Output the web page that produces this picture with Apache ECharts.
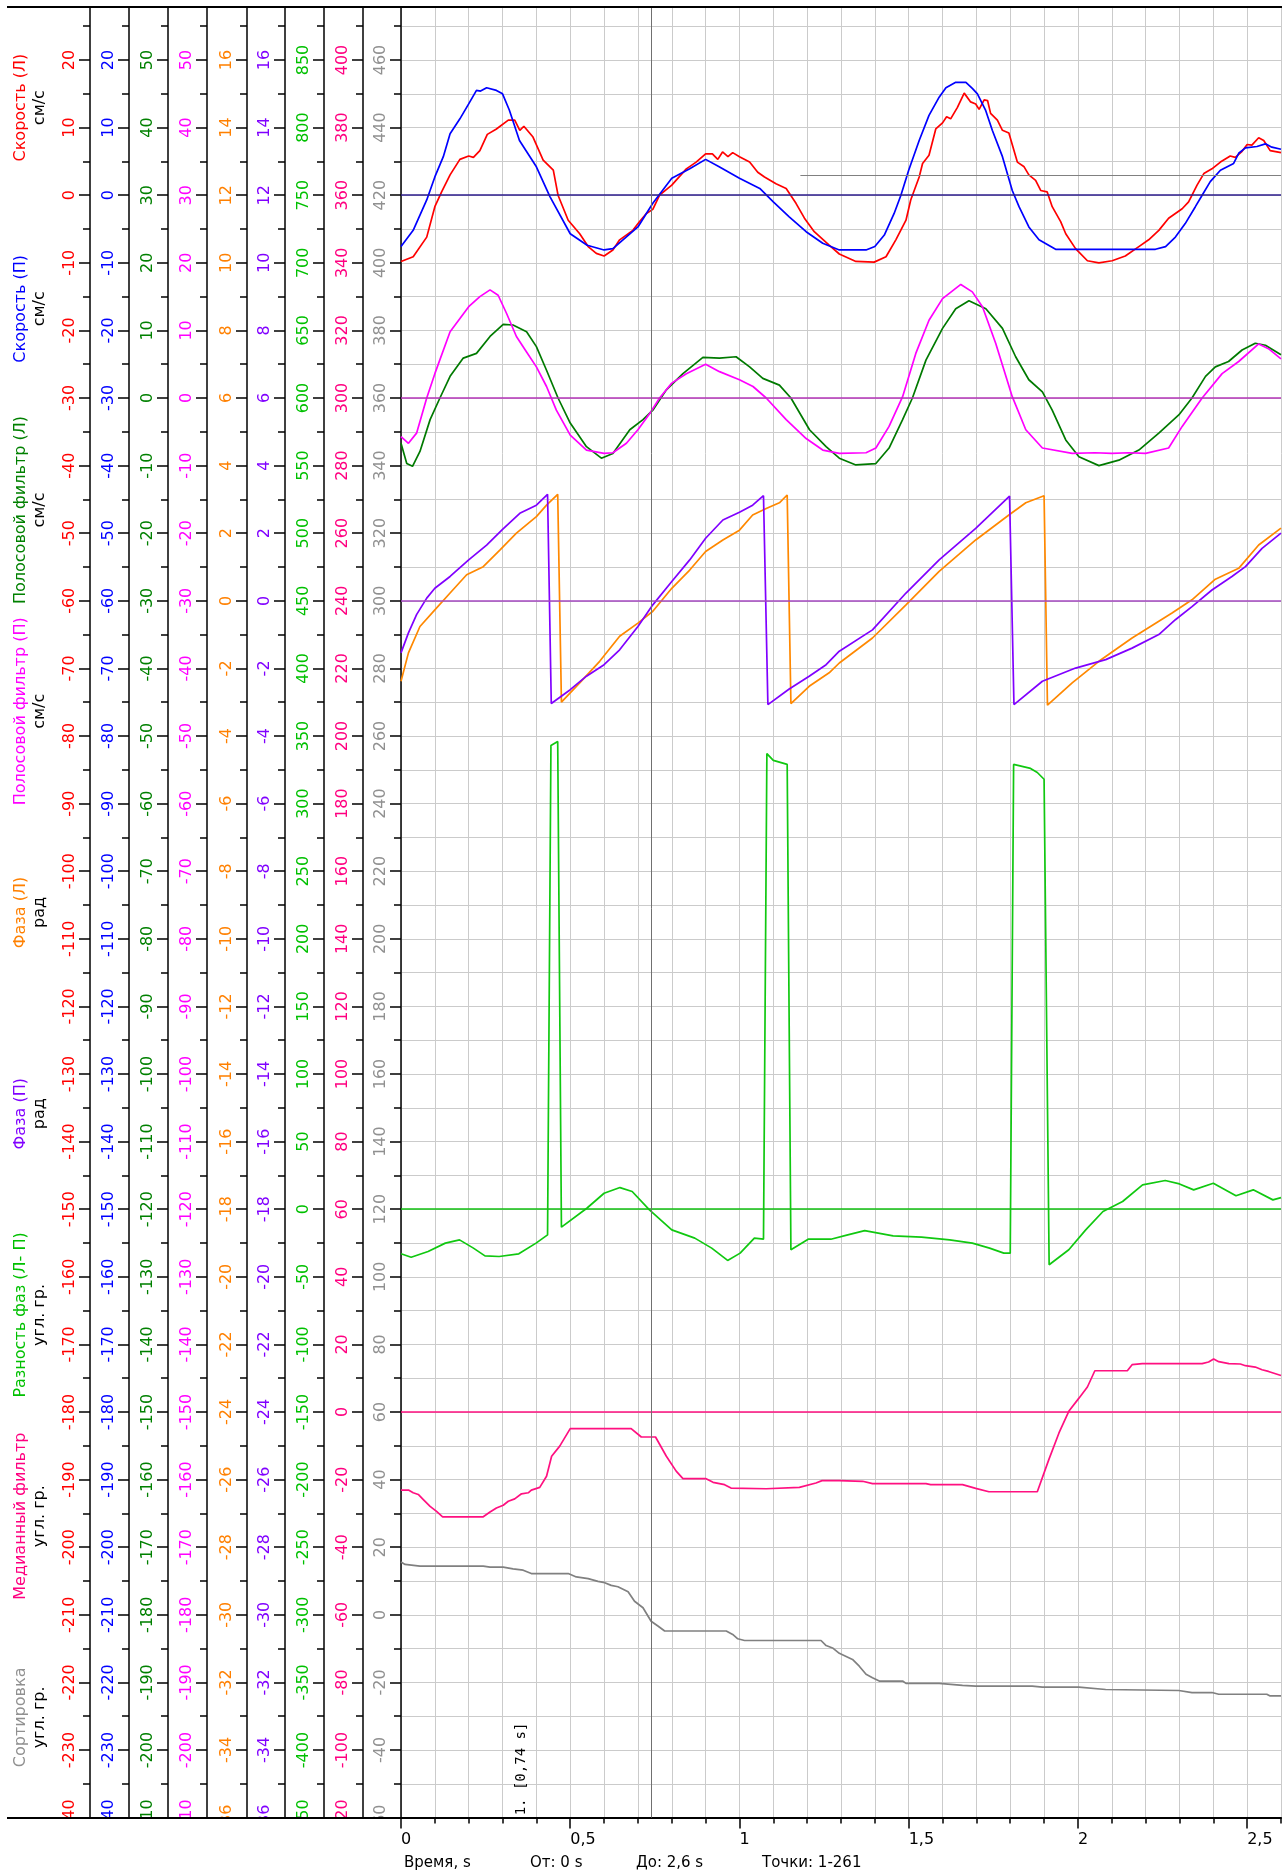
<!DOCTYPE html>
<html>
<head>
<meta charset="utf-8">
<title>Фаза</title>
<script src="https://cdn.jsdelivr.net/npm/echarts@6.0.0/dist/echarts.min.js"></script>
<style>
  html, body { margin: 0; padding: 0; background: #fff; }
  #chart { width: 1287px; height: 1874px; }
</style>
</head>
<body>
<div id="chart"></div>
<script>
// скорости, см/с  [время, значение]
const speedL = [[0,-9.8],[0.036,-9.1],[0.076,-6.2],[0.1,-1.7],[0.12,0.5],[0.145,3.0],[0.174,5.3],[0.2,5.8],[0.214,5.6],[0.233,6.6],[0.255,9.0],[0.282,9.8],[0.317,11.1],[0.336,11.1],[0.351,9.6],[0.363,10.2],[0.39,8.6],[0.42,5.2],[0.45,3.7],[0.464,0],[0.494,-3.7],[0.528,-5.7],[0.553,-7.6],[0.577,-8.6],[0.6,-9.0],[0.626,-8.1],[0.646,-6.6],[0.685,-5.2],[0.705,-3.9],[0.725,-2.7],[0.744,-2.1],[0.764,0],[0.8,1.5],[0.843,3.9],[0.872,4.9],[0.9,6.1],[0.92,6.1],[0.936,5.3],[0.95,6.4],[0.966,5.7],[0.98,6.3],[1.0,5.7],[1.03,4.9],[1.054,3.4],[1.074,2.7],[1.108,1.7],[1.138,1.0],[1.167,-1.2],[1.192,-3.4],[1.221,-5.4],[1.265,-7.4],[1.295,-8.7],[1.344,-9.8],[1.398,-9.9],[1.433,-9.1],[1.462,-6.6],[1.492,-3.7],[1.506,-0.7],[1.531,2.7],[1.541,4.7],[1.56,5.9],[1.58,9.8],[1.6,10.7],[1.612,11.6],[1.624,11.3],[1.644,13.0],[1.664,15.1],[1.683,13.8],[1.698,13.5],[1.708,12.7],[1.723,14.1],[1.733,14.0],[1.742,12.1],[1.762,11.1],[1.777,9.6],[1.796,9.2],[1.821,4.9],[1.841,4.2],[1.855,3.0],[1.875,2.2],[1.89,0.7],[1.909,0.5],[1.924,-1.7],[1.949,-3.9],[1.964,-5.7],[1.993,-7.9],[2.028,-9.7],[2.062,-10.0],[2.101,-9.7],[2.14,-9.0],[2.18,-7.6],[2.209,-6.6],[2.239,-5.2],[2.268,-3.4],[2.308,-2.0],[2.327,-1.0],[2.352,1.5],[2.372,3.2],[2.396,3.9],[2.421,4.9],[2.45,5.8],[2.465,5.6],[2.485,6.5],[2.5,7.5],[2.514,7.4],[2.534,8.5],[2.549,8.1],[2.568,6.6],[2.6,6.3]];
const speedR = [[0,-7.6],[0.036,-5.2],[0.076,-0.7],[0.1,2.7],[0.125,5.7],[0.145,9.1],[0.174,11.3],[0.2,13.5],[0.223,15.5],[0.235,15.4],[0.253,15.9],[0.282,15.5],[0.3,15.0],[0.32,12.6],[0.35,8.1],[0.4,4.2],[0.44,-0.2],[0.5,-5.7],[0.55,-7.4],[0.6,-8.1],[0.626,-7.9],[0.7,-4.7],[0.744,-1.2],[0.8,2.5],[0.853,3.9],[0.9,5.3],[0.94,4.2],[1.0,2.5],[1.06,1.0],[1.1,-1.0],[1.147,-3.2],[1.197,-5.4],[1.246,-7.1],[1.295,-8.1],[1.374,-8.1],[1.4,-7.6],[1.428,-5.9],[1.457,-2.7],[1.477,0],[1.5,3.7],[1.531,8.1],[1.56,11.8],[1.59,14.5],[1.61,15.9],[1.639,16.7],[1.669,16.7],[1.688,15.8],[1.703,15.0],[1.727,12.6],[1.747,9.6],[1.777,5.7],[1.806,0.7],[1.826,-1.7],[1.855,-4.7],[1.885,-6.6],[1.934,-8.0],[2.229,-8.0],[2.259,-7.6],[2.288,-6.2],[2.317,-4.2],[2.347,-1.7],[2.367,0],[2.391,2.0],[2.421,3.7],[2.46,4.7],[2.475,6.2],[2.495,7.0],[2.529,7.2],[2.554,7.6],[2.573,7.1],[2.6,6.8]];
// полосовой фильтр
const bandL = [[0,-6.7],[0.017,-9.7],[0.034,-10.1],[0.056,-7.9],[0.086,-3.2],[0.115,0],[0.145,3.2],[0.184,5.9],[0.223,6.6],[0.263,9.1],[0.302,10.9],[0.331,10.8],[0.371,9.8],[0.4,7.6],[0.43,4.1],[0.464,0],[0.5,-3.7],[0.548,-7.2],[0.592,-8.9],[0.626,-8.2],[0.676,-4.7],[0.715,-3.2],[0.744,-1.8],[0.784,1.2],[0.833,3.6],[0.892,6.0],[0.941,5.9],[0.99,6.1],[1.03,4.6],[1.069,2.9],[1.118,1.9],[1.152,0],[1.207,-4.7],[1.256,-7.2],[1.295,-8.9],[1.344,-9.9],[1.403,-9.7],[1.442,-7.4],[1.482,-3.2],[1.511,0],[1.551,5.6],[1.6,10.3],[1.639,13.2],[1.678,14.4],[1.728,13.2],[1.777,10.3],[1.816,6.1],[1.855,2.7],[1.895,0.9],[1.924,-1.8],[1.964,-6.2],[2.003,-8.7],[2.062,-10.0],[2.121,-9.2],[2.18,-7.7],[2.239,-5.2],[2.298,-2.5],[2.337,0],[2.377,3.2],[2.406,4.6],[2.445,5.4],[2.485,7.1],[2.524,8.1],[2.554,7.8],[2.6,6.4]];
const bandR = [[0,-5.7],[0.022,-6.7],[0.046,-5.2],[0.076,0],[0.1,3.6],[0.145,9.8],[0.2,13.5],[0.233,15.0],[0.263,16.0],[0.287,15.2],[0.312,12.5],[0.341,9.1],[0.371,6.8],[0.4,4.6],[0.43,1.7],[0.459,-1.8],[0.5,-5.5],[0.548,-7.7],[0.6,-8.2],[0.626,-8.1],[0.666,-6.7],[0.7,-4.7],[0.735,-2.3],[0.764,0],[0.8,2.2],[0.843,3.6],[0.9,5.0],[0.941,3.9],[1.0,2.7],[1.04,1.7],[1.079,0],[1.138,-3.2],[1.197,-6.0],[1.246,-7.7],[1.295,-8.2],[1.374,-8.1],[1.403,-7.4],[1.442,-4.2],[1.482,0.2],[1.521,6.6],[1.56,11.5],[1.6,14.7],[1.654,16.8],[1.688,15.7],[1.718,13.5],[1.757,8.1],[1.806,0.2],[1.846,-4.7],[1.895,-7.4],[1.983,-8.2],[2.05,-8.1],[2.1,-8.2],[2.15,-8.1],[2.2,-8.2],[2.268,-7.4],[2.308,-4.2],[2.367,0],[2.426,3.6],[2.475,5.4],[2.534,8.0],[2.563,7.3],[2.6,5.8]];
// фаза, рад
const phaseL = [[0,-2.38],[0.022,-1.54],[0.056,-0.76],[0.1,-0.27],[0.145,0.23],[0.194,0.77],[0.243,1.01],[0.292,1.5],[0.341,2.0],[0.4,2.49],[0.43,2.83],[0.463,3.15],[0.474,-3.0],[0.528,-2.43],[0.587,-1.79],[0.646,-1.05],[0.7,-0.66],[0.744,-0.31],[0.8,0.37],[0.853,0.91],[0.9,1.46],[0.951,1.8],[1.0,2.09],[1.039,2.54],[1.079,2.73],[1.118,2.9],[1.141,3.13],[1.152,-3.04],[1.206,-2.53],[1.265,-2.13],[1.295,-1.84],[1.393,-1.1],[1.492,-0.12],[1.59,0.87],[1.698,1.8],[1.796,2.54],[1.846,2.9],[1.9,3.11],[1.91,-3.09],[1.983,-2.43],[2.062,-1.79],[2.16,-1.1],[2.278,-0.36],[2.337,0.03],[2.406,0.64],[2.475,0.96],[2.534,1.65],[2.6,2.15]];
const phaseR = [[0,-1.54],[0.022,-0.95],[0.046,-0.41],[0.076,0.08],[0.1,0.37],[0.145,0.72],[0.2,1.21],[0.253,1.65],[0.3,2.11],[0.351,2.59],[0.4,2.83],[0.433,3.15],[0.444,-3.04],[0.5,-2.63],[0.548,-2.23],[0.6,-1.89],[0.646,-1.45],[0.7,-0.76],[0.744,-0.12],[0.8,0.57],[0.853,1.21],[0.9,1.85],[0.951,2.39],[1.0,2.62],[1.039,2.83],[1.071,3.11],[1.084,-3.07],[1.147,-2.61],[1.206,-2.23],[1.256,-1.89],[1.295,-1.49],[1.393,-0.86],[1.492,0.23],[1.59,1.21],[1.698,2.14],[1.798,3.1],[1.811,-3.07],[1.895,-2.38],[1.993,-1.99],[2.082,-1.74],[2.16,-1.4],[2.239,-1.0],[2.288,-0.56],[2.337,-0.17],[2.396,0.32],[2.455,0.72],[2.495,1.01],[2.544,1.55],[2.6,2.0]];
// разность фаз, угл. гр.
const phaseDiff = [[0,-33],[0.03,-35.5],[0.08,-31.3],[0.131,-25.1],[0.173,-22.7],[0.214,-28.8],[0.248,-34.5],[0.29,-35.0],[0.348,-33.0],[0.399,-25.1],[0.433,-19],[0.443,343],[0.463,346],[0.474,-13.3],[0.549,0.7],[0.6,11.8],[0.647,16.0],[0.683,13.1],[0.734,-0.5],[0.8,-15.3],[0.868,-21.4],[0.918,-28.8],[0.965,-37.9],[1.002,-32.5],[1.044,-21.4],[1.071,-22.2],[1.081,337],[1.1,332],[1.141,329],[1.152,-30],[1.203,-22.2],[1.27,-22.2],[1.32,-19.0],[1.37,-15.8],[1.454,-19.7],[1.538,-20.7],[1.621,-22.7],[1.688,-25.1],[1.739,-28.8],[1.781,-32.5],[1.8,-32.5],[1.81,329],[1.86,326],[1.88,323],[1.9,318],[1.915,-41.1],[1.973,-30.0],[2.023,-15.3],[2.074,-1.7],[2.132,5.7],[2.191,18.0],[2.258,21.2],[2.3,18.7],[2.342,14.3],[2.4,19.2],[2.467,9.9],[2.518,14.3],[2.576,6.9],[2.6,8.6]];
// медианный фильтр и сортировка, угл. гр.
const median = [[0,-23.1],[0.022,-23.1],[0.036,-23.9],[0.051,-24.4],[0.066,-25.9],[0.086,-27.9],[0.105,-29.4],[0.123,-31.0],[0.243,-31.0],[0.263,-29.6],[0.282,-28.4],[0.302,-27.6],[0.317,-26.4],[0.336,-25.7],[0.356,-24.2],[0.376,-23.9],[0.385,-23.1],[0.41,-22.3],[0.43,-19.0],[0.445,-13.1],[0.469,-10.1],[0.5,-4.9],[0.68,-4.9],[0.71,-7.4],[0.752,-7.4],[0.784,-13.1],[0.813,-17.5],[0.833,-19.7],[0.9,-19.7],[0.922,-20.8],[0.956,-21.5],[0.975,-22.5],[1.079,-22.7],[1.177,-22.3],[1.226,-21.0],[1.244,-20.3],[1.295,-20.3],[1.364,-20.5],[1.393,-21.2],[1.551,-21.2],[1.565,-21.5],[1.659,-21.5],[1.698,-22.6],[1.737,-23.6],[1.88,-23.6],[1.914,-14.1],[1.944,-6.2],[1.973,0.2],[2.003,4.1],[2.028,7.4],[2.05,12.2],[2.146,12.2],[2.16,14.0],[2.19,14.3],[2.367,14.3],[2.386,14.8],[2.401,15.7],[2.416,14.9],[2.446,14.3],[2.48,14.2],[2.495,13.7],[2.524,13.3],[2.544,12.5],[2.563,12.0],[2.6,10.8]];
const sorted = [[0,15.6],[0.012,14.9],[0.056,14.4],[0.243,14.4],[0.263,14.1],[0.302,14.1],[0.331,13.6],[0.361,13.2],[0.385,12.2],[0.494,12.2],[0.518,11.2],[0.553,10.7],[0.582,9.9],[0.602,9.5],[0.621,8.7],[0.641,8.3],[0.671,6.8],[0.69,4.0],[0.715,2.1],[0.739,-1.9],[0.759,-3.3],[0.779,-4.8],[0.961,-4.8],[0.98,-5.8],[0.995,-7.1],[1.015,-7.6],[1.241,-7.6],[1.256,-9.1],[1.275,-9.8],[1.295,-11.4],[1.334,-13.2],[1.354,-15.2],[1.374,-17.6],[1.393,-18.6],[1.413,-19.6],[1.482,-19.6],[1.492,-20.3],[1.59,-20.3],[1.659,-20.9],[1.698,-21.1],[1.865,-21.1],[1.895,-21.4],[2.003,-21.4],[2.082,-22.1],[2.298,-22.4],[2.337,-23.0],[2.396,-23.0],[2.416,-23.5],[2.558,-23.5],[2.568,-24.0],[2.6,-24.0]];

// оси
const titles = ['Скорость (Л)', 'Скорость (П)', 'Полосовой фильтр (Л)', 'Полосовой фильтр (П)', 'Фаза (Л)', 'Фаза (П)', 'Разность фаз (Л- П)', 'Медианный фильтр', 'Сортировка'];
const units = ['см/с', 'см/с', 'см/с', 'см/с', 'рад', 'рад', 'угл. гр.', 'угл. гр.', 'угл. гр.'];
const axisMin = [-240, -240, -210, -210, -36, -36, -450, -120, -60];
const axisMax = [30, 30, 60, 60, 18, 18, 900, 420, 480];
const axisStep = [10, 10, 10, 10, 2, 2, 50, 20, 20];
const xMajor = [0, 0.5, 1, 1.5, 2, 2.5];
const cursorTime = 0.74;
const levelL = 2.95; // серая линия уровня
const levelFrom = 1.18;

const axisColors = ['#ff0000', '#0000ff', '#008000', '#ff00ff', '#ff8000', '#8000ff', '#00c000', '#ff0080', '#909090'];
const axisX = [90, 129, 168, 207, 247, 285, 324, 363, 401];
const FONT = 'DejaVu Sans';

const chart = echarts.init(document.getElementById('chart'), null, { renderer: 'canvas' });

const yAxes = axisMin.map((min, i) => ({
  type: 'value',
  position: 'left',
  offset: 401 - axisX[i],
  min: min,
  max: axisMax[i],
  interval: axisStep[i],
  axisLine: { show: true, onZero: false, lineStyle: { color: '#000', width: 1.5 } },
  axisTick: { show: true, length: 11, lineStyle: { color: '#000', width: 1.5 } },
  minorTick: { show: true, splitNumber: 2, length: 7, lineStyle: { color: '#000', width: 1.5 } },
  axisLabel: {
    rotate: 90, margin: 12, color: axisColors[i], fontSize: 16, fontFamily: FONT,
    showMaxLabel: true, showMinLabel: true
  },
  splitLine: { show: i === 0, lineStyle: { color: '#cbcbcb', width: 1 } },
  minorSplitLine: { show: i === 0, lineStyle: { color: '#cbcbcb', width: 1 } }
}));

function refLine(color) {
  return { silent: true, symbol: 'none', label: { show: false }, animation: false,
    lineStyle: { color: color, width: 1.5, type: 'solid' }, data: [{ yAxis: 0 }] };
}

function line(data, yIdx, color, extra) {
  return Object.assign({
    type: 'line', xAxisIndex: 0, yAxisIndex: yIdx, data: data,
    showSymbol: false, symbol: 'none', animation: false,
    lineStyle: { color: color, width: 1.7 }, itemStyle: { color: color }
  }, extra || {});
}

const series = [
  line(speedL, 0, '#ff0000', {
    markLine: { silent: true, symbol: 'none', label: { show: false }, animation: false,
      lineStyle: { color: '#808080', width: 1, type: 'solid' },
      data: [[{ coord: [levelFrom, levelL] }, { coord: [2.6, levelL] }]] }
  }),
  line(speedR, 1, '#0000ff', { markLine: refLine('#2c1c8c') }),
  line(bandL, 2, '#007a00'),
  line(bandR, 3, '#ff00ff', { markLine: refLine('#b434b8') }),
  line(phaseL, 4, '#ff8800'),
  line(phaseR, 5, '#8000ff', { markLine: refLine('#a448c0') }),
  line(phaseDiff, 6, '#10c810', { markLine: refLine('#10c010') }),
  line(median, 7, '#ff1080', { markLine: refLine('#ff1080') }),
  line(sorted, 8, '#808080', {
    markLine: { silent: true, symbol: 'none', label: { show: false }, animation: false,
      lineStyle: { color: '#707070', width: 1, type: 'solid' }, data: [{ xAxis: cursorTime }] }
  })
];

const graphics = [];
const bandH = 1811 / 9;
titles.forEach((t, i) => {
  const cy = 7 + bandH * (i + 0.5);
  graphics.push({ type: 'text', x: 21, y: cy, rotation: Math.PI / 2, z: 120,
    style: { text: t, fill: axisColors[i], font: '16px "' + FONT + '"', textAlign: 'center', textVerticalAlign: 'middle' } });
  graphics.push({ type: 'text', x: 40, y: cy, rotation: Math.PI / 2, z: 120,
    style: { text: units[i], fill: '#000', font: '16px "' + FONT + '"', textAlign: 'center', textVerticalAlign: 'middle' } });
});
// обрезка сверху и снизу
graphics.push({ type: 'rect', z: 100, shape: { x: 0, y: 0, width: 1287, height: 6 }, style: { fill: '#fff' } });
graphics.push({ type: 'rect', z: 100, shape: { x: 0, y: 1819, width: 399, height: 55 }, style: { fill: '#fff' } });
graphics.push({ type: 'line', z: 110, shape: { x1: 7, y1: 7, x2: 1282, y2: 7 }, style: { stroke: '#000', lineWidth: 2 } });
graphics.push({ type: 'line', z: 110, shape: { x1: 7, y1: 1818, x2: 402, y2: 1818 }, style: { stroke: '#000', lineWidth: 2 } });
graphics.push({ type: 'text', x: 521, y: 1769, rotation: Math.PI / 2, z: 120,
  style: { text: '1. [0,74 s]', fill: '#000', font: '14px "DejaVu Sans Mono"', textAlign: 'center', textVerticalAlign: 'middle' } });
[['Время, s', 404], ['От: 0 s', 530], ['До: 2,6 s', 636], ['Точки: 1-261', 762]].forEach(function (p) {
  graphics.push({ type: 'text', x: p[1], y: 1863, z: 120,
    style: { text: p[0], fill: '#000', font: '15px "' + FONT + '"', textAlign: 'left', textVerticalAlign: 'middle' } });
});

const option = {
  backgroundColor: '#fff',
  animation: false,
  grid: { left: 401, right: 6, top: -7.6, bottom: 56.4, outerBoundsMode: 'none', containLabel: false },
  xAxis: [
    {
      type: 'value', position: 'bottom', min: 0, max: 2.6, interval: 0.1,
      axisLine: { show: true, onZero: false, lineStyle: { color: '#000', width: 2 } },
      axisTick: { show: true, length: 6, lineStyle: { color: '#000', width: 1.5 } },
      axisLabel: { show: false },
      splitLine: { show: true, lineStyle: { color: '#cbcbcb', width: 1 } }
    },
    {
      type: 'value', position: 'bottom', min: 0, max: 2.6,
      axisLine: { show: false, onZero: false },
      axisTick: { show: true, length: 11, customValues: xMajor, lineStyle: { color: '#000', width: 1.5 } },
      axisLabel: {
        customValues: xMajor, align: 'left', margin: 14, color: '#000', fontSize: 16, fontFamily: FONT,
        formatter: v => String(v).replace('.', ',')
      },
      splitLine: { show: false }
    }
  ],
  yAxis: yAxes,
  series: series,
  graphic: { elements: graphics }
};
chart.setOption(option);
</script>
</body>
</html>
